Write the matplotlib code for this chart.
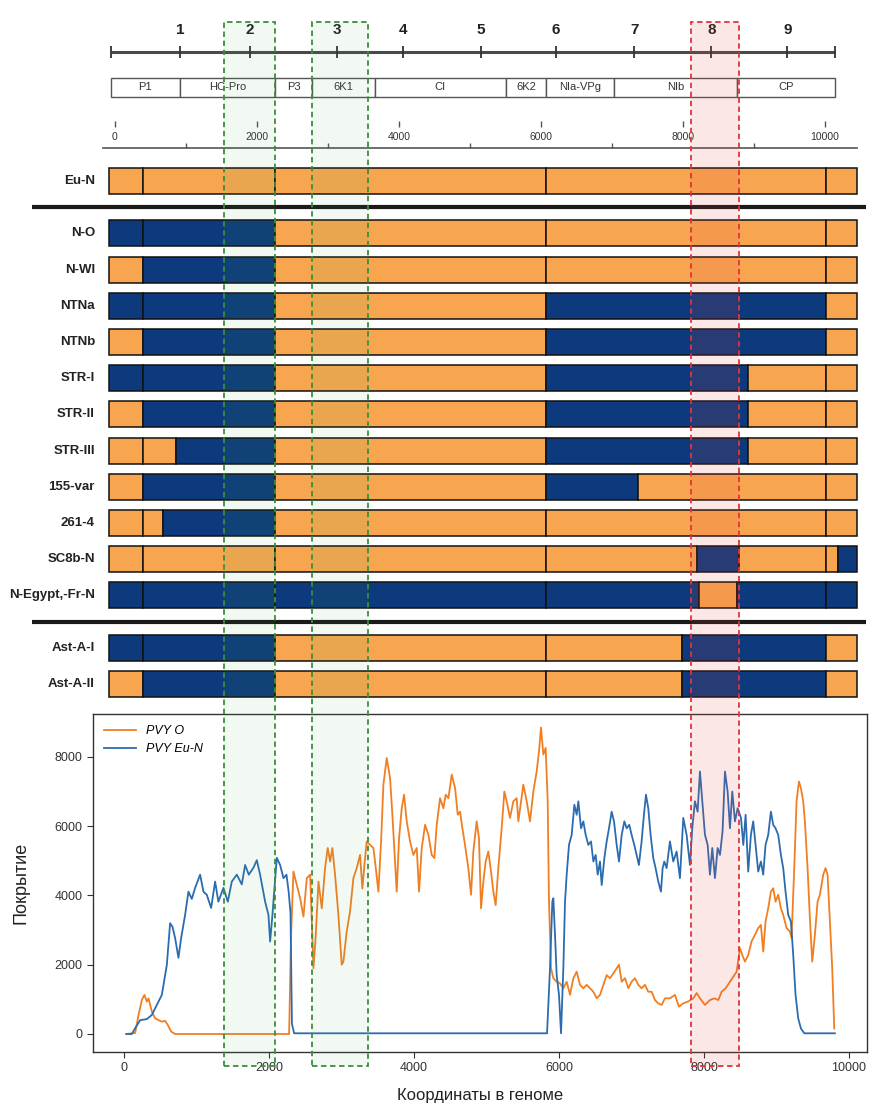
import matplotlib.pyplot as plt
from matplotlib.patches import Rectangle
from matplotlib.transforms import blended_transform_factory

plt.rcParams['font.family'] = ['Liberation Sans', 'DejaVu Sans']

ORANGE = '#F7A64F'
NAVY = '#0C3A7C'
parent_colors = {'O': ORANGE, 'N': NAVY}

# --- genome map (ruler coordinates, nt) ---
ruler_start, ruler_end = -60, 10140
region_ticks = [915, 1900, 3120, 4050, 5150, 6205, 7315, 8400, 9470]
region_labels = ['1', '2', '3', '4', '5', '6', '7', '8', '9']
gene_names = ['P1', 'HC-Pro', 'P3', '6K1', 'CI', '6K2', 'NIa-VPg', 'NIb', 'CP']
gene_bounds = [-60, 915, 2260, 2775, 3660, 5505, 6070, 7035, 8765, 10140]
scale_major = [0, 2000, 4000, 6000, 8000, 10000]
scale_minor = [1000, 3000, 5000, 7000, 9000]

# highlighted regions 2, 3 and 8
highlight_spans = [(1540, 2260), (2775, 3565), (8110, 8795)]
highlight_edge = ['#3a8f3a', '#3a8f3a', '#e0343a']
highlight_fill = ['#4caf50', '#4caf50', '#e8484b']
highlight_alpha = [0.07, 0.07, 0.13]

# --- recombination maps ---
bar_start, bar_end = -85, 10450
fixed_breaks = [395, 2260, 6070, 10015]
groups = [
    ['Eu-N'],
    ['N-O', 'N-WI', 'NTNa', 'NTNb', 'STR-I', 'STR-II', 'STR-III',
     '155-var', '261-4', 'SC8b-N', 'N-Egypt,-Fr-N'],
    ['Ast-A-I', 'Ast-A-II'],
]
block_ends = {
    'Eu-N': [10450],
    'N-O': [2260, 10450],
    'N-WI': [395, 2260, 10450],
    'NTNa': [2260, 6070, 10015, 10450],
    'NTNb': [395, 2260, 6070, 10015, 10450],
    'STR-I': [2260, 6070, 8915, 10450],
    'STR-II': [395, 2260, 6070, 8915, 10450],
    'STR-III': [860, 2260, 6070, 8915, 10450],
    '155-var': [395, 2260, 6070, 7365, 10450],
    '261-4': [675, 2260, 10450],
    'SC8b-N': [8195, 8790, 10180, 10450],
    'N-Egypt,-Fr-N': [8225, 8760, 10450],
    'Ast-A-I': [2260, 7985, 10015, 10450],
    'Ast-A-II': [395, 2260, 7985, 10015, 10450],
}
block_parents = {
    'Eu-N': ['O'],
    'N-O': ['N', 'O'],
    'N-WI': ['O', 'N', 'O'],
    'NTNa': ['N', 'O', 'N', 'O'],
    'NTNb': ['O', 'N', 'O', 'N', 'O'],
    'STR-I': ['N', 'O', 'N', 'O'],
    'STR-II': ['O', 'N', 'O', 'N', 'O'],
    'STR-III': ['O', 'N', 'O', 'N', 'O'],
    '155-var': ['O', 'N', 'O', 'N', 'O'],
    '261-4': ['O', 'N', 'O'],
    'SC8b-N': ['O', 'N', 'O', 'N'],
    'N-Egypt,-Fr-N': ['N', 'O', 'N'],
    'Ast-A-I': ['N', 'O', 'N', 'O'],
    'Ast-A-II': ['O', 'N', 'O', 'N', 'O'],
}

# --- read coverage ---
o_pos = [30, 152, 198, 244, 280, 313, 336, 382, 428, 474, 520, 566, 602, 648, 703,
         2276, 2303, 2336, 2382, 2428, 2474, 2520, 2566, 2589, 2612, 2644, 2681, 2727,
         2772, 2809, 2842, 2873, 2910, 2956, 3002, 3025, 3071, 3117, 3163, 3209, 3255,
         3287, 3315, 3347, 3393, 3439, 3462, 3508, 3545, 3577, 3623, 3669, 3701, 3738,
         3761, 3793, 3830, 3862, 3899, 3945, 3991, 4037, 4069, 4106, 4152, 4198, 4244,
         4280, 4313, 4359, 4405, 4437, 4474, 4520, 4566, 4603, 4635, 4667, 4703, 4749,
         4786, 4818, 4864, 4896, 4924, 4956, 4988, 5025, 5062, 5094, 5126, 5163, 5209,
         5246, 5278, 5324, 5370, 5416, 5439, 5476, 5508, 5554, 5600, 5646, 5692, 5724,
         5752, 5784, 5816, 5844, 5862, 5890, 5922, 5968, 6014, 6060, 6106, 6152, 6198,
         6244, 6290, 6336, 6382, 6428, 6474, 6520, 6566, 6612, 6658, 6704, 6750, 6796,
         6828, 6865, 6911, 6957, 7002, 7048, 7094, 7140, 7186, 7232, 7278, 7324, 7370,
         7416, 7462, 7531, 7600, 7655, 7715, 7784, 7853, 7899, 7945, 8014, 8083, 8143,
         8198, 8244, 8299, 8359, 8419, 8451, 8497, 8529, 8566, 8611, 8657, 8703, 8749,
         8786, 8818, 8850, 8887, 8924, 8956, 8988, 9025, 9062, 9094, 9140, 9186, 9209,
         9246, 9278, 9311, 9338, 9370, 9393, 9430, 9462, 9494, 9531, 9568, 9600, 9646,
         9678, 9706, 9738, 9770, 9798]
o_cov = [0, 30, 550, 980, 1130, 935, 1030, 645, 450, 400, 356, 380, 260, 70, 0,
         0, 2860, 4690, 4300, 3920, 3390, 4500, 4600, 3250, 1900, 2860, 4400, 3630,
         4790, 5370, 4980, 5370, 4600, 3440, 2000, 2090, 2960, 3540, 4500, 4790, 5170,
         4200, 4880, 5560, 5460, 5370, 4980, 4110, 5560, 7200, 7970, 7390, 6330, 4980,
         4110, 5650, 6520, 6910, 6140, 5560, 5170, 5370, 4110, 5370, 6040, 5750, 5170,
         5080, 6040, 6810, 6520, 6910, 6810, 7490, 7100, 6330, 6420, 5940, 5460, 4790,
         4020, 5270, 6140, 5650, 3630, 4400, 4980, 5270, 4690, 4110, 3720, 4790, 5940,
         7000, 6720, 6240, 6720, 6810, 6140, 6720, 7200, 6720, 6140, 7000, 7580, 8160,
         8850, 8070, 8260, 6720, 3820, 1900, 1610, 1510, 1460, 1320, 1510, 1130, 1610,
         1800, 1420, 1320, 1420, 1320, 1220, 1030, 1130, 1420, 1700, 1610, 1750, 1900,
         2000, 1510, 1610, 1320, 1510, 1610, 1420, 1320, 1420, 1220, 1220, 980, 885,
         840, 1030, 1030, 1130, 790, 885, 940, 1030, 1180, 1030, 840, 980, 1030,
         980, 1220, 1320, 1510, 1700, 1800, 2480, 2280, 2090, 2280, 2670, 2860, 3060,
         3150, 2380, 3250, 3630, 4110, 4210, 3820, 4020, 3630, 3440, 3060, 2960, 2770,
         4790, 6720, 7290, 7100, 6720, 6140, 4790, 3340, 2090, 2860, 3820, 4020, 4600,
         4790, 4600, 3250, 1900, 160]

n_pos = [30, 106, 152, 221, 313, 382, 451, 520, 589, 634, 666, 703, 749, 786, 841,
         887, 933, 979, 1048, 1094, 1140, 1200, 1255, 1300, 1370, 1430, 1485, 1554,
         1623, 1669, 1720, 1784, 1830, 1876, 1945, 1991, 2014, 2046, 2106, 2152, 2198,
         2240, 2270, 2295, 2315, 2345, 5835, 5876, 5908, 5922, 5945, 5968, 6000, 6028,
         6060, 6083, 6106, 6138, 6175, 6212, 6244, 6267, 6304, 6336, 6368, 6405, 6442,
         6474, 6506, 6534, 6566, 6589, 6626, 6658, 6690, 6727, 6759, 6796, 6828, 6865,
         6902, 6934, 6970, 7002, 7039, 7071, 7103, 7140, 7172, 7200, 7232, 7264, 7301,
         7333, 7370, 7407, 7430, 7453, 7485, 7531, 7577, 7623, 7669, 7715, 7761, 7807,
         7839, 7876, 7913, 7945, 7977, 8014, 8051, 8083, 8115, 8152, 8189, 8221, 8257,
         8290, 8327, 8359, 8391, 8428, 8465, 8511, 8543, 8575, 8611, 8648, 8680, 8713,
         8749, 8786, 8818, 8850, 8887, 8924, 8956, 8988, 9025, 9062, 9094, 9126, 9163,
         9200, 9232, 9264, 9301, 9338, 9384, 9807]
n_cov = [0, 0, 170, 400, 430, 550, 840, 1130, 2000, 3200, 3100, 2770, 2200, 2770, 3440,
         4110, 3900, 4220, 4600, 4110, 4020, 3640, 4400, 3820, 4220, 3820, 4400, 4600,
         4320, 4880, 4600, 4800, 5020, 4600, 3820, 3440, 2670, 3440, 5090, 4880, 4500,
         4600, 4100, 3500, 300, 20, 20, 1900, 3820, 3920, 2860, 1700, 1130, 20,
         1900, 3820, 4600, 5460, 5750, 6620, 6330, 6720, 5940, 6140, 5750, 5460, 5560,
         4980, 5170, 4600, 4980, 4300, 5080, 5560, 5940, 6420, 6140, 5460, 4980, 5750,
         6140, 5940, 6040, 5750, 5460, 5170, 4880, 5560, 6330, 6910, 6520, 5750, 5080,
         4790, 4400, 4110, 4790, 4980, 4790, 5560, 4980, 5270, 4500, 6240, 5750, 4880,
         5940, 6720, 6420, 7580, 6720, 5750, 5460, 4600, 5370, 4500, 5370, 5170, 5850,
         7580, 7000, 5940, 7000, 6140, 6520, 6240, 5460, 6330, 4690, 5750, 6140, 5460,
         4690, 4980, 4600, 5460, 5750, 6420, 6040, 5940, 5750, 5170, 4790, 4110, 3440,
         3250, 2280, 1130, 450, 160, 20, 20]

fig = plt.figure(figsize=(8.75, 11.06), dpi=100)

# top panel: y axis in pixels from the top of the figure
ax = fig.add_axes([0, 401 / 1106, 1, 695 / 1106])
ax.set_xlim(-115 / 0.071, 760 / 0.071)
ax.set_ylim(705, 10)
ax.axis('off')

# region ruler
ax.plot([ruler_start, ruler_end], [52, 52], color='#4a4a4a', lw=2.2, solid_capstyle='butt')
ax.vlines([ruler_start] + region_ticks + [ruler_end], 46, 58, color='#333333', lw=1.3)
for x, lab in zip(region_ticks, region_labels):
    ax.text(x, 30, lab, ha='center', va='center', fontsize=11, fontweight='bold', color='#222222')

# genes
for name, x0, x1 in zip(gene_names, gene_bounds[:-1], gene_bounds[1:]):
    ax.add_patch(Rectangle((x0, 78), x1 - x0, 19, facecolor='white', edgecolor='#555555', lw=1))
    ax.text((x0 + x1) / 2, 87.5, name, ha='center', va='center', fontsize=8, color='#333333')

# nucleotide scale
ax.plot([-170, bar_end], [148, 148], color='#555555', lw=1.2)
ax.vlines(scale_major, 121, 127, color='#555555', lw=1)
ax.vlines(scale_minor, 143, 148, color='#555555', lw=1)
for x in scale_major:
    ax.text(x, 137, str(x), ha='center', va='center', fontsize=7.5, color='#333333')

# recombination maps
pitch, bar_h = 36.2, 26
row_y = []
y = 181
for g, names in enumerate(groups):
    if g > 0:
        y += pitch * 0.45
    for name in names:
        row_y.append((name, y))
        y += pitch

for name, yc in row_y:
    cuts = sorted(set([bar_start] + fixed_breaks + block_ends[name]))
    for x0, x1 in zip(cuts[:-1], cuts[1:]):
        k = next(i for i, e in enumerate(block_ends[name]) if x1 <= e)
        ax.barh(yc, x1 - x0, left=x0, height=bar_h,
                color=parent_colors[block_parents[name][k]], edgecolor='#111111', lw=1.1)
    ax.text(-282, yc, name, ha='right', va='center', fontsize=9.5, fontweight='bold', color='#222222')

# group separators
sep_y = [(row_y[0][1] + row_y[1][1]) / 2, (row_y[11][1] + row_y[12][1]) / 2]
for ys in sep_y:
    ax.plot([-1170, 10580], [ys, ys], color='#1a1a1a', lw=3, solid_capstyle='butt')

# coverage panel
axc = fig.add_axes([93 / 875, 54 / 1106, 774 / 875, 338 / 1106])
axc.plot(o_pos, o_cov, color='#F07F22', lw=1.3, label='PVY O')
axc.plot(n_pos, n_cov, color='#2B6CB0', lw=1.3, label='PVY Eu-N')
axc.set_xlim(-430, 10250)
axc.set_ylim(-520, 9240)
axc.set_xticks([0, 2000, 4000, 6000, 8000, 10000])
axc.set_yticks([0, 2000, 4000, 6000, 8000])
axc.tick_params(labelsize=9, colors='#333333', length=4)
for s in axc.spines.values():
    s.set_color('#333333')
    s.set_linewidth(1)
axc.set_xlabel('Координаты в геноме', fontsize=12, color='#222222', labelpad=10)
axc.set_ylabel('Покрытие', fontsize=13, color='#222222', labelpad=18)
axc.legend(loc='upper left', frameon=False, prop={'size': 9, 'style': 'italic'}, handlelength=2.5)

# highlighted regions across the whole figure
tr = blended_transform_factory(ax.transData, fig.transFigure)
y0, y1 = 40 / 1106, 1084 / 1106
for (x0, x1), ec, fc, a in zip(highlight_spans, highlight_edge, highlight_fill, highlight_alpha):
    fig.add_artist(Rectangle((x0, y0), x1 - x0, y1 - y0, transform=tr,
                             facecolor=fc, alpha=a, edgecolor='none'))
    fig.add_artist(Rectangle((x0, y0), x1 - x0, y1 - y0, transform=tr,
                             facecolor='none', edgecolor=ec, lw=1.3, linestyle=(0, (3, 2))))

fig.savefig('out.png', dpi=100)
